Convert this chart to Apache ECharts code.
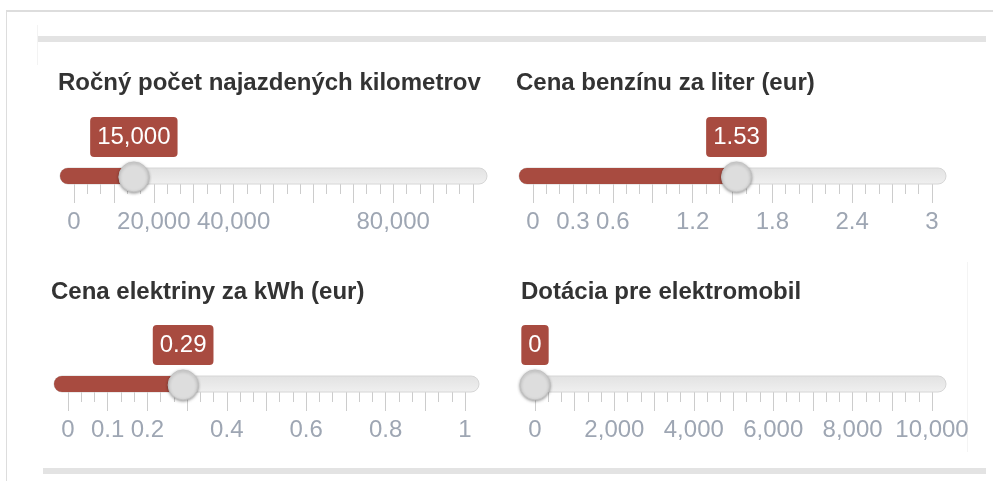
<!DOCTYPE html>
<html>
<head>
<meta charset="utf-8">
<title>Sliders</title>
<script src="https://cdn.jsdelivr.net/npm/echarts@6/dist/echarts.min.js"></script>
<style>
	html, body {
		margin: 0;
		padding: 0;
		background: #ffffff;
	}

	#main {
		width: 993px;
		height: 481px;
	}
</style>
</head>
<body>
<div id="main"></div>
<script>
	// slider titles, ranges and current values
	var sliderTitles = [
		'Ročný počet najazdených kilometrov',
		'Cena benzínu za liter (eur)',
		'Cena elektriny za kWh (eur)',
		'Dotácia pre elektromobil'
	];
	var sliderMin = [0, 0, 0, 0];
	var sliderMax = [100000, 3, 1, 10000];
	var sliderStep = [10000, 0.3, 0.1, 1000];
	var sliderValues = [15000, 1.53, 0.29, 0];

	// grid labels that are visible under each slider
	var kmLabels = ['0', '20,000', '40,000', '80,000'];
	var petrolLabels = ['0', '0.3', '0.6', '1.2', '1.8', '2.4', '3'];
	var electricityLabels = ['0', '0.1', '0.2', '0.4', '0.6', '0.8', '1'];
	var subsidyLabels = ['0', '2,000', '4,000', '6,000', '8,000', '10,000'];
	var tickLabels = [kmLabels, petrolLabels, electricityLabels, subsidyLabels];

	var red = '#a84b40';
	var font = 'Liberation Sans, Arial, sans-serif';

	// layout of each slider (pixels)
	var layout = [
		{ left: 74, width: 399, axisY: 184, titleX: 58, titleY: 71 },
		{ left: 533, width: 399, axisY: 184, titleX: 516, titleY: 71 },
		{ left: 68, width: 397, axisY: 392, titleX: 51, titleY: 280 },
		{ left: 535, width: 397, axisY: 392, titleX: 521, titleY: 280 }
	];

	function fmt(v) {
		var s = String(Math.round(v * 1000) / 1000);
		return s.replace(/\B(?=(\d{3})+(?!\d))/g, ',');
	}

	function makeRender(i) {
		return function(params, api) {
			var v = api.value(0);
			var p0 = api.coord([sliderMin[i], 0]);
			var p1 = api.coord([sliderMax[i], 0]);
			var h = api.coord([v, 0]);
			var y = p0[1];
			var pad = 14;
			return {
				type: 'group',
				children: [{
					type: 'rect',
					shape: { x: p0[0] - pad, y: y - 16, width: p1[0] - p0[0] + pad * 2, height: 16, r: 8 },
					style: {
						fill: new echarts.graphic.LinearGradient(0, 0, 0, 1, [
							{ offset: 0, color: '#e2e2e2' },
							{ offset: 1, color: '#f0f0f0' }
						]),
						stroke: '#d6d6d6',
						lineWidth: 1
					}
				}, {
					type: 'rect',
					shape: { x: p0[0] - pad, y: y - 16, width: h[0] - p0[0] + pad, height: 16, r: [8, 0, 0, 8] },
					style: { fill: red }
				}, {
					type: 'circle',
					shape: { cx: h[0], cy: y - 7, r: 15 },
					style: {
						fill: '#dddddd',
						stroke: '#c2c2c2',
						lineWidth: 1,
						shadowBlur: 3,
						shadowOffsetY: 1,
						shadowColor: 'rgba(0,0,0,0.35)'
					}
				}, {
					type: 'text',
					x: h[0],
					y: y - 47,
					style: {
						text: fmt(v),
						fill: '#ffffff',
						font: '24px ' + font,
						align: 'center',
						verticalAlign: 'middle',
						backgroundColor: red,
						padding: [8, 7, 8, 7],
						borderRadius: 4
					}
				}]
			};
		};
	}

	var titles = [], grids = [], xAxes = [], yAxes = [], series = [];
	for (var i = 0; i < 4; i++) {
		var L = layout[i];
		titles.push({
			text: sliderTitles[i],
			left: L.titleX,
			top: L.titleY,
			padding: 0,
			textStyle: { fontFamily: font, fontSize: 24, fontWeight: 'bold', color: '#333333' }
		});
		grids.push({ left: L.left, width: L.width, top: L.axisY - 40, height: 40 });
		(function(idx) {
			xAxes.push({
				type: 'value',
				gridIndex: idx,
				min: sliderMin[idx],
				max: sliderMax[idx],
				interval: sliderStep[idx],
				axisLine: { show: false },
				splitLine: { show: false },
				axisTick: { show: true, length: 19, lineStyle: { color: '#cccccc', width: 1 } },
				minorTick: { show: true, splitNumber: 3, length: 10, lineStyle: { color: '#cccccc', width: 1 } },
				axisLabel: {
					margin: 26,
					fontFamily: font,
					fontSize: 24,
					color: '#9ea6b3',
					hideOverlap: false,
					showMinLabel: true,
					showMaxLabel: true,
					formatter: function(v) {
						var t = fmt(v);
						return tickLabels[idx].indexOf(t) >= 0 ? t : '';
					}
				}
			});
		})(i);
		yAxes.push({ type: 'value', gridIndex: i, min: 0, max: 1, show: false });
		series.push({
			type: 'custom',
			xAxisIndex: i,
			yAxisIndex: i,
			renderItem: makeRender(i),
			data: [[sliderValues[i]]],
			silent: true
		});
	}

	// page frame around the sliders
	var frame = [
		{ type: 'rect', shape: { x: 6, y: 10, width: 1, height: 471 }, style: { fill: '#dddddd' } },
		{ type: 'rect', shape: { x: 6, y: 10, width: 987, height: 2 }, style: { fill: '#dddddd' } },
		{ type: 'rect', shape: { x: 37, y: 25, width: 1, height: 40 }, style: { fill: '#f3f3f3' } },
		{ type: 'rect', shape: { x: 38, y: 36, width: 948, height: 6 }, style: { fill: '#e3e3e3' } },
		{ type: 'rect', shape: { x: 43, y: 468, width: 943, height: 6 }, style: { fill: '#e3e3e3' } },
		{ type: 'rect', shape: { x: 967, y: 262, width: 1, height: 190 }, style: { fill: '#f4f4f4' } }
	];

	var myChart = echarts.init(document.getElementById('main'));
	myChart.setOption({
		animation: false,
		backgroundColor: '#ffffff',
		title: titles,
		grid: grids,
		xAxis: xAxes,
		yAxis: yAxes,
		graphic: frame,
		series: series
	});
</script>
</body>
</html>
